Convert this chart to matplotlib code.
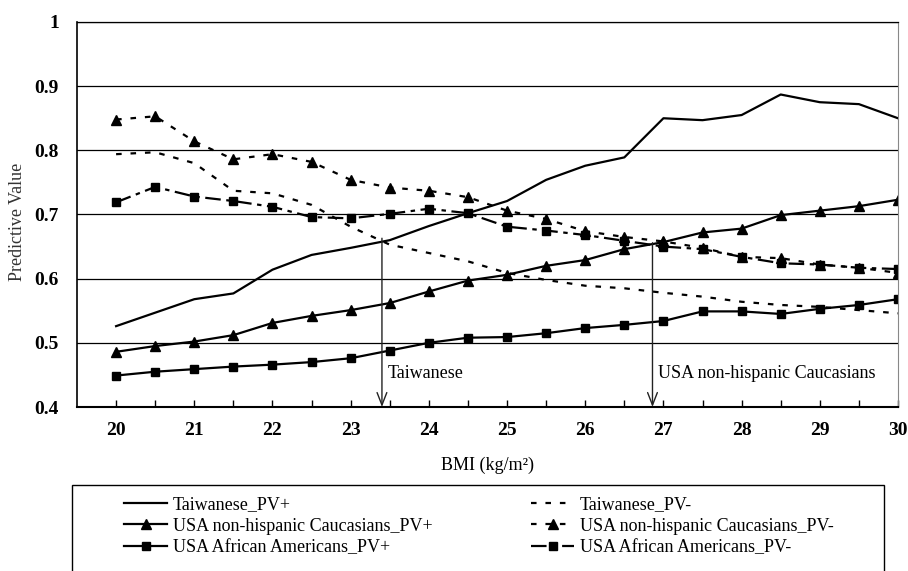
import matplotlib
matplotlib.use('Agg')
import matplotlib.pyplot as plt
from matplotlib.patches import Rectangle

plt.rcParams['font.family'] = ['Liberation Serif', 'DejaVu Serif']

bmi = [20, 20.5, 21, 21.5, 22, 22.5, 23, 23.5, 24, 24.5, 25,
       25.5, 26, 26.5, 27, 27.5, 28, 28.5, 29, 29.5, 30]
tw_pos = [0.526, 0.547, 0.568, 0.577, 0.614, 0.637, 0.648, 0.660, 0.682, 0.702, 0.721,
          0.754, 0.776, 0.789, 0.850, 0.847, 0.855, 0.887, 0.875, 0.872, 0.850]
tw_neg = [0.794, 0.797, 0.780, 0.737, 0.733, 0.715, 0.681, 0.653, 0.640, 0.627, 0.609,
          0.598, 0.589, 0.585, 0.578, 0.572, 0.564, 0.559, 0.556, 0.551, 0.546]
cau_pos = [0.486, 0.495, 0.502, 0.512, 0.531, 0.542, 0.551, 0.562, 0.580, 0.597, 0.606,
           0.620, 0.629, 0.646, 0.657, 0.672, 0.678, 0.699, 0.706, 0.713, 0.723]
cau_neg = [0.848, 0.853, 0.814, 0.786, 0.794, 0.782, 0.754, 0.742, 0.737, 0.727, 0.706,
           0.693, 0.674, 0.665, 0.658, 0.648, 0.634, 0.632, 0.622, 0.617, 0.609]
afr_pos = [0.449, 0.455, 0.459, 0.463, 0.466, 0.470, 0.476, 0.488, 0.500, 0.508, 0.509,
           0.515, 0.523, 0.528, 0.534, 0.549, 0.549, 0.545, 0.553, 0.559, 0.568]
afr_neg = [0.719, 0.743, 0.728, 0.721, 0.712, 0.696, 0.694, 0.701, 0.709, 0.702, 0.681,
           0.675, 0.668, 0.659, 0.650, 0.646, 0.634, 0.624, 0.622, 0.617, 0.615]

# cut-off points marked with arrows
cut_x = [23.4, 26.86]
cut_top = [0.663, 0.656]
cut_names = ['Taiwanese', 'USA non-hispanic Caucasians']

fig = plt.figure(figsize=(9.08, 5.71), dpi=100)
ax = fig.add_axes([77/908, 1 - 407/571, 821/908, 385/571])

short_dash = (0, (2.5, 4))
long_dash = (0, (7, 2.5, 2, 2.5))
lw = 1.6
ms = 6.5

l1, = ax.plot(bmi, tw_pos, color='black', lw=lw, label='Taiwanese_PV+')
l2, = ax.plot(bmi, tw_neg, color='black', lw=lw, ls=short_dash, label='Taiwanese_PV-')
l3, = ax.plot(bmi, cau_pos, color='black', lw=lw, marker='^', ms=ms,
              label='USA non-hispanic Caucasians_PV+')
l4, = ax.plot(bmi, cau_neg, color='black', lw=lw, ls=short_dash, marker='^', ms=ms,
              label='USA non-hispanic Caucasians_PV-')
l5, = ax.plot(bmi, afr_pos, color='black', lw=lw, marker='s', ms=ms - 0.5,
              label='USA African Americans_PV+')
l6, = ax.plot(bmi, afr_neg, color='black', lw=lw, ls=long_dash, marker='s', ms=ms - 0.5,
              label='USA African Americans_PV-')

for x, top, name in zip(cut_x, cut_top, cut_names):
    ax.annotate('', xy=(x, 0.4), xytext=(x, top),
                arrowprops=dict(arrowstyle='->,head_length=0.9,head_width=0.35',
                                color='#222222', lw=1, shrinkA=0, shrinkB=0))
    ax.text(x + 0.07, 0.452, name, fontsize=13, va='center', ha='left')

ax.set_xlim(19.5, 30)
ax.set_ylim(0.4, 1.0)
ax.set_yticks([0.4, 0.5, 0.6, 0.7, 0.8, 0.9, 1.0])
ax.set_yticklabels(['0.4', '0.5', '0.6', '0.7', '0.8', '0.9', '1'])
ax.set_xticks(range(20, 31))
ax.set_xticks(bmi, minor=True)
ax.tick_params(axis='x', which='both', direction='in', length=5, width=1, pad=11,
               labelsize=14)
ax.tick_params(axis='y', length=0, pad=13, labelsize=14)
for t in ax.get_xticklabels() + ax.get_yticklabels():
    t.set_fontweight('bold')

ax.grid(axis='y', color='black', lw=0.9)
ax.set_axisbelow(True)
ax.spines['left'].set_linewidth(1.2)
ax.spines['bottom'].set_linewidth(1.5)
ax.spines['top'].set_linewidth(0.9)
ax.spines['right'].set_color('#888888')

ax.set_ylabel('Predictive Value', fontsize=13, color='#333333')
ax.yaxis.set_label_coords(-0.062, 0.48)
ax.set_xlabel('BMI (kg/m²)', fontsize=13)
ax.xaxis.set_label_coords(0.5, -0.128)

# legend box, cut off by the bottom of the figure
fig.add_artist(Rectangle((72/908, -0.1), 812/908, 0.1 + 1 - 485/571,
                         transform=fig.transFigure, fill=False, lw=1,
                         edgecolor='black'))
leg_kw = dict(frameon=False, fontsize=13, handlelength=2.4, handletextpad=0.3,
              borderpad=0, labelspacing=0.25, loc='upper left')
fig.legend(handles=[l1, l3, l5], bbox_to_anchor=(115/908, 1 - 487/571), **leg_kw)
fig.legend(handles=[l2, l4, l6], bbox_to_anchor=(522/908, 1 - 487/571), **leg_kw)

fig.savefig('out.png', dpi=100)
